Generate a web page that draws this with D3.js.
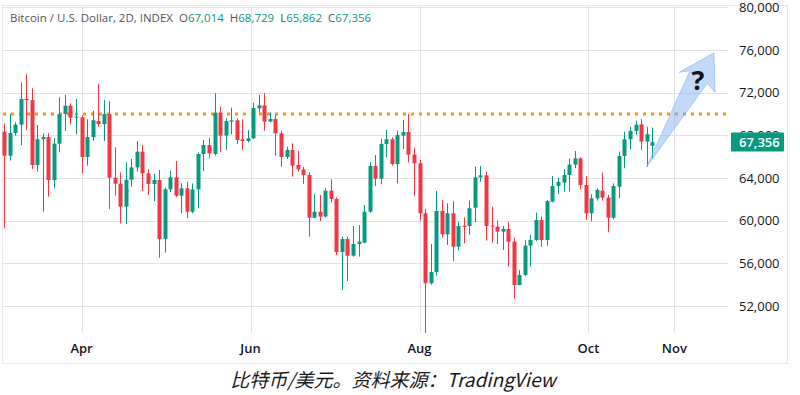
<!DOCTYPE html>
<html>
<head>
<meta charset="utf-8">
<script src="https://cdn.jsdelivr.net/npm/d3@7"></script>
<style>
  html, body { margin: 0; padding: 0; background: #fff; }
  svg { display: block; font-family: "Open Sans", "Noto Sans", sans-serif; }
</style>
</head>
<body>
<svg width="800" height="395"></svg>
<script>
// 2D candles, first bar 2024-03-04
var firstBar = new Date(2024, 2, 4);

var open  = [68340,66090,68220,69000,71410,71300,65220,67630,67840,63810,67220,70000,70780,69660,69690,65970,67840,69340,69060,70000,
             64030,63470,61310,63840,65000,66470,64440,63440,63810,58280,62940,64060,62340,63030,60840,62940,66250,67090,66250,70130,
             67970,69280,69410,67630,67470,67720,70530,70810,69280,69530,68190,65970,66630,65220,64810,64280,60280,60840,60380,62810,
             62030,57060,58280,56720,57810,57940,60840,65130,63940,67190,67630,65310,67970,68310,66190,65380,60690,54130,55190,60910,
             58720,60690,57560,59530,59500,61220,64060,64250,59530,59440,58970,59220,58030,53970,54910,57660,58190,60060,58190,61780,
             63250,63560,64280,65250,65840,63340,60690,62090,62810,62160,60280,63190,66060,67630,68410,69030,67410,67014];
var high  = [69130,70000,69220,72970,73720,72410,68970,68190,68190,67720,71560,71780,71000,71410,69910,69500,70280,72810,71310,71220,
             66880,64530,65470,65780,67470,67090,64840,64380,64750,63100,64660,65590,63500,63660,63500,66410,67560,67780,71940,70690,
             69590,70590,69590,69500,68500,71060,71780,71940,70160,69970,68440,66940,67250,66530,65060,64530,62500,62410,63030,63880,
             62190,58500,58500,59500,59590,61470,65470,66160,67660,68500,67810,68440,69440,70000,66840,65690,61090,57810,62780,61940,
             61630,61840,59910,60310,61880,65060,65130,64590,61310,60000,59500,59910,58410,55380,58190,58660,60750,60380,61940,64190,
             64030,64810,65840,66530,65940,64190,62470,63030,64500,62410,63500,66470,68340,68810,69380,69530,68810,68729];
var low   = [59280,65630,67970,67090,68500,64840,64590,60840,62250,63030,66410,68410,69030,68090,64440,65160,67470,68810,67470,61090,
             62340,59750,59690,63190,64590,62780,62410,61840,56530,57000,62660,62200,60690,60220,60690,61160,64660,65840,66100,66410,
             66630,68090,67190,66630,67340,67660,70130,68440,69220,66090,65060,65780,64130,64590,63440,58500,60220,59970,60300,61690,
             56780,53500,54340,56630,56630,57880,60750,63250,63410,65940,65160,63500,66720,65440,62340,60000,49440,54000,54840,58410,
             57720,56220,57190,57880,58660,59840,63660,58130,57940,57810,57250,55690,52660,53940,54810,55690,58090,57560,57660,61720,
             62500,62720,62720,64910,62940,60060,59910,61880,61880,58910,60130,62090,64910,66690,68030,66630,65060,65862];
var close = [66090,68220,69000,71410,71300,65220,67630,67840,63810,67220,70000,70780,69660,69750,65970,67840,69410,69060,70000,64030,
             63470,61310,63840,65000,66470,64440,63440,63810,58280,62940,64060,62340,63030,60840,62940,66250,67090,66310,70130,67970,
             69340,69410,67560,67470,67720,70560,70810,69280,69530,68190,65970,66630,65160,64810,64280,60280,60840,60380,62810,62030,
             57060,58280,56720,57810,58030,60840,65130,63940,67190,67630,65310,68030,68310,66190,65380,60690,54130,55190,60910,58720,
             60690,57560,59500,59410,61160,64060,64250,59500,59440,58970,59220,58030,53970,54910,57660,58190,60060,58190,61840,63250,
             63630,64280,65250,65840,63340,60690,62090,62880,62160,60280,63250,66060,67630,68410,69000,67410,68100,67356];

var priceTicks = [52000, 56000, 60000, 64000, 68000, 72000, 76000, 80000];
var monthTicks = [new Date(2024, 3, 1), new Date(2024, 5, 1), new Date(2024, 7, 1), new Date(2024, 9, 1), new Date(2024, 10, 1)];
var monthLabels = ['Apr', 'Jun', 'Aug', 'Oct', 'Nov'];
var resistance = 70000;
var lastPrice = 67356;
var header = [['Bitcoin / U.S. Dollar, 2D, INDEX', ''], ['O', '67,014'], ['H', '68,729'], ['L', '65,862'], ['C', '67,356']];
var caption = '比特币/美元。资料来源：TradingView';

var svg = d3.select('svg'),
    up = '#089981',
    down = '#f23645',
    plotLeft = 2, plotRight = 728, plotTop = 5, plotBottom = 333;

var bars = open.map(function(o, i) {
  return { date: d3.timeDay.offset(firstBar, 2 * i), o: o, h: high[i], l: low[i], c: close[i] };
});

var x = d3.scaleTime()
          .domain([firstBar, new Date(2024, 10, 30)])
          .range([4, 4 + 271 * 2.77]);
var y = d3.scaleLinear()
          .domain([52000, 76000])
          .range([306, 50]);

svg.append('rect').attr('width', 800).attr('height', 395).attr('fill', '#fff');

svg.append('defs').append('clipPath').attr('id', 'plot')
   .append('rect')
     .attr('x', plotLeft).attr('y', plotTop)
     .attr('width', plotRight - plotLeft).attr('height', plotBottom - plotTop);

// grid
var grid = svg.append('g').attr('class', 'grid').attr('clip-path', 'url(#plot)');
grid.selectAll('.hline')
    .data(priceTicks)
    .enter().append('line')
      .attr('x1', plotLeft).attr('x2', plotRight)
      .attr('y1', function(d) { return Math.round(y(d)) + 0.5; })
      .attr('y2', function(d) { return Math.round(y(d)) + 0.5; })
      .attr('stroke', '#e3e3e3');
grid.selectAll('.vline')
    .data(monthTicks)
    .enter().append('line')
      .attr('y1', plotTop).attr('y2', plotBottom)
      .attr('x1', function(d) { return Math.round(x(d)) + 0.5; })
      .attr('x2', function(d) { return Math.round(x(d)) + 0.5; })
      .attr('stroke', '#e3e3e3');

// frame
svg.append('rect')
   .attr('x', 2.5).attr('y', 5.5).attr('width', 785).attr('height', 358)
   .attr('fill', 'none').attr('stroke', '#e8e8ec');

// resistance line
svg.append('line')
   .attr('x1', plotLeft + 1).attr('x2', plotRight)
   .attr('y1', Math.round(y(resistance))).attr('y2', Math.round(y(resistance)))
   .attr('stroke', '#ff9800').attr('stroke-width', 3)
   .attr('stroke-dasharray', '3,5');

// candles
var candles = svg.append('g').attr('class', 'candles').attr('clip-path', 'url(#plot)')
                 .selectAll('g')
                 .data(bars)
                 .enter().append('g')
                   .attr('fill', function(d) { return d.c >= d.o ? up : down; })
                   .attr('stroke', function(d) { return d.c >= d.o ? up : down; });

candles.append('line')
       .attr('x1', function(d) { return Math.round(x(d.date)) + 0.5; })
       .attr('x2', function(d) { return Math.round(x(d.date)) + 0.5; })
       .attr('y1', function(d) { return y(d.h); })
       .attr('y2', function(d) { return y(d.l); });

candles.append('rect')
       .attr('stroke', 'none')
       .attr('x', function(d) { return Math.round(x(d.date)) - 1.5; })
       .attr('width', 4)
       .attr('y', function(d) { return y(Math.max(d.o, d.c)); })
       .attr('height', function(d) { return Math.max(1, Math.abs(y(d.o) - y(d.c))); });

// arrow with question mark
var last = bars[bars.length - 1];
var tail = [x(last.date) - 5.5, 166.7];
var arrow = [tail, [690, 70.7], [679.3, 72.3], [714, 52.7], [715, 92.3], [707.3, 83.3]];
svg.append('path')
   .attr('d', d3.line()(arrow) + 'Z')
   .attr('fill', 'rgba(120,170,245,0.45)')
   .attr('stroke', 'rgba(110,165,245,0.5)')
   .attr('stroke-width', 1);
svg.append('text')
   .attr('x', 698).attr('y', 90)
   .attr('text-anchor', 'middle')
   .attr('font-size', 27).attr('font-weight', 'bold')
   .attr('fill', '#111')
   .text('?');

// price axis
svg.append('g').attr('class', 'yaxis')
   .selectAll('text')
   .data(priceTicks)
   .enter().append('text')
     .attr('x', 739)
     .attr('y', function(d) { return y(d); })
     .attr('dy', '0.35em')
     .attr('font-size', 13)
     .attr('fill', '#131722')
     .text(function(d) { return d3.format(',')(d); });

svg.append('rect')
   .attr('x', 731).attr('y', Math.round(y(lastPrice)) - 9.5)
   .attr('width', 53).attr('height', 19).attr('rx', 1)
   .attr('fill', up);
svg.append('text')
   .attr('x', 739).attr('y', y(lastPrice))
   .attr('dy', '0.35em')
   .attr('font-size', 13).attr('font-weight', 600)
   .attr('fill', '#fff')
   .text(d3.format(',')(lastPrice));

// time axis
svg.append('g').attr('class', 'xaxis')
   .selectAll('text')
   .data(monthTicks)
   .enter().append('text')
     .attr('x', function(d) { return x(d); })
     .attr('y', 353)
     .attr('text-anchor', 'middle')
     .attr('font-size', 13).attr('font-weight', 600)
     .attr('fill', '#131722')
     .text(function(d, i) { return monthLabels[i]; });

// legend
var legend = svg.append('text')
                .attr('x', 10).attr('y', 22)
                .attr('font-size', 11.5)
                .attr('fill', '#555');
header.forEach(function(h, i) {
  legend.append('tspan').attr('dx', i ? 6 : 0).text(h[0]);
  if (h[1]) legend.append('tspan').attr('fill', up).text(h[1]);
});

// caption
svg.append('text')
   .attr('x', 393).attr('y', 387)
   .attr('text-anchor', 'middle')
   .attr('font-family', '"Noto Sans CJK SC", "Open Sans", sans-serif')
   .attr('font-style', 'italic')
   .attr('font-size', 19)
   .attr('fill', '#1a1a1a')
   .text(caption);
</script>
</body>
</html>
